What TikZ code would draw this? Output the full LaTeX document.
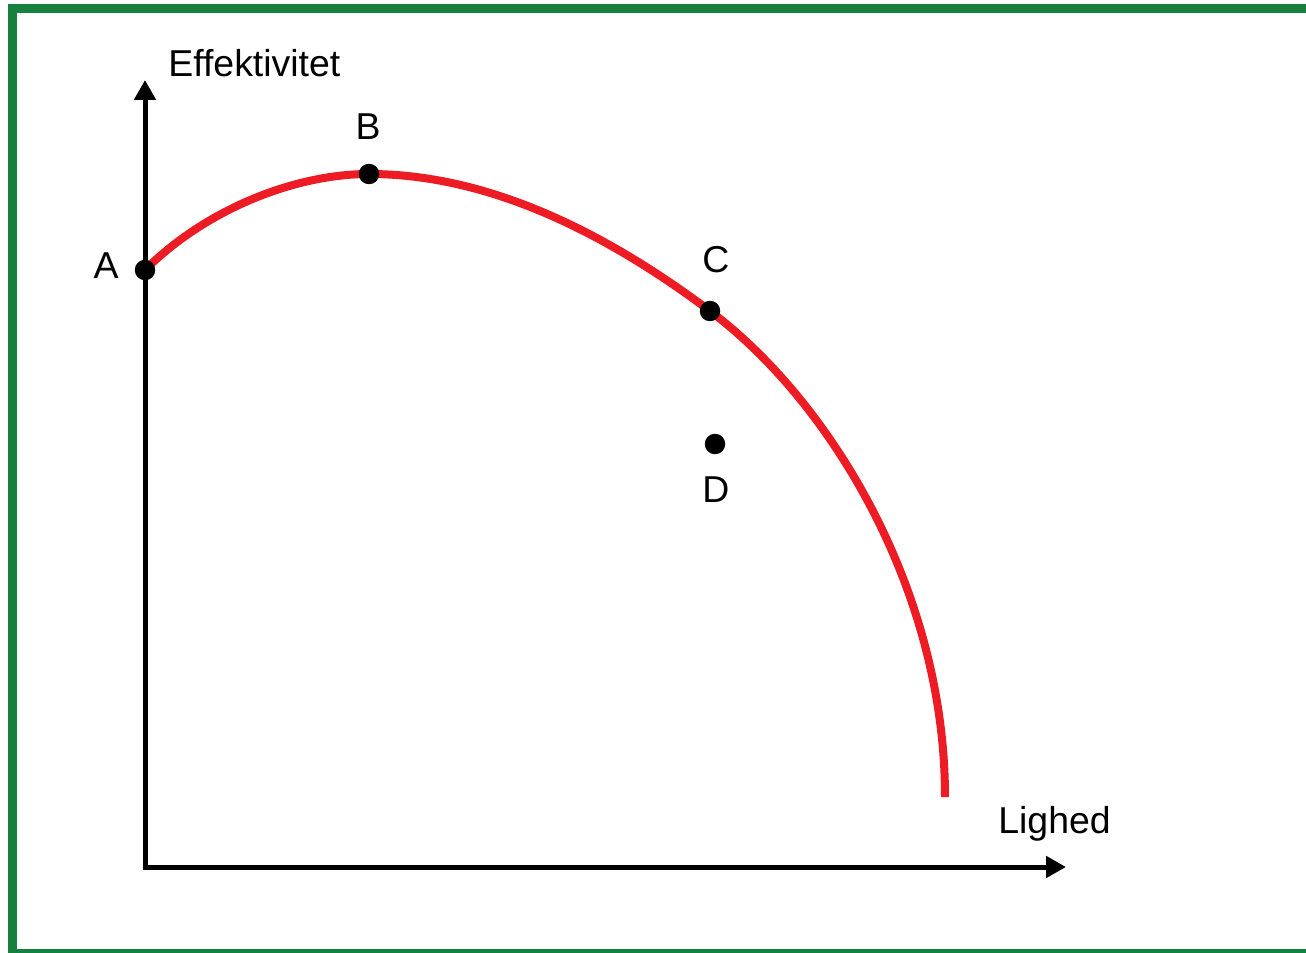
\documentclass[tikz,border=0pt]{standalone}
\usepackage{fontspec}
\setmainfont{Liberation Sans}
\usetikzlibrary{arrows.meta}
\definecolor{framegreen}{RGB}{22,128,62}
\definecolor{curvered}{RGB}{237,28,36}
\tikzset{
  axis/.style={line width=.1cm,line join=miter,{Triangle[length=.4cm,width=.42cm]}-{Triangle[length=.4cm,width=.42cm]}},
  curve/.style={line width=.16cm,curvered},
  dot/.style={circle,fill=black,inner sep=0pt,minimum size=.41cm},
  lab/.style={inner sep=0pt,font=\fontsize{21.3}{25}\selectfont}
}

\begin{document}
\begin{tikzpicture}[x=.02cm,y=-.02cm]
\useasboundingbox (0,0) rectangle (1306,953);
\clip (0,0) rectangle (1306,953);
\fill[white] (0,0) rectangle (1306,953);
\draw[line width=.18cm,framegreen] (12.7,8.7) rectangle (1330,953.5);
% axes
\coordinate (o) at (145,867);\coordinate (ytop) at (145,80);\coordinate (xend) at (1066,867);
\draw[axis] (ytop) -- (o) -- (xend);
% points on and under the curve
\foreach \n/\x/\y in {A/145/270,B/369/174,C/710/311,D/715/444,E/945/797}{\coordinate (\n) at (\x,\y);}
\draw[curve] (A) .. controls (205,210) and (294,174) .. (B) .. controls (489,174) and (606,233) .. (C) .. controls (830,401) and (945,590) .. (E);
\foreach \n in {A,B,C,D}{\node[dot] (dot\n) at (\n){};}
\foreach \n/\x/\y in {A/106/278,B/368/140,C/716/273,D/716/502}{\node[lab,anchor=base] (lab\n) at (\x,\y){\n};}
\node[lab,anchor=base west] (ylab) at (168,77){Effektivitet};
\node[lab,anchor=base west] (xlab) at (998,833){Lighed};
\end{tikzpicture}
\end{document}
